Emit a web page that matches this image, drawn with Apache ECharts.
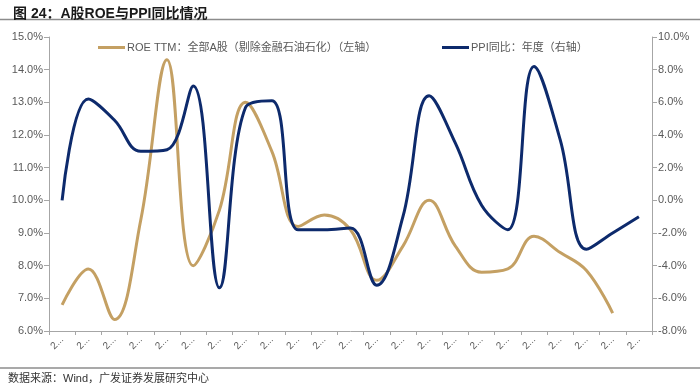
<!DOCTYPE html>
<html><head><meta charset="utf-8">
<script src="https://cdn.jsdelivr.net/npm/echarts@6/dist/echarts.min.js"></script>
<style>html,body{margin:0;padding:0;background:#fff}#c{width:700px;height:385px}</style>
</head><body><div id="c"></div>
<script>
var categories = ['2003','2004','2005','2006','2007','2008','2009','2010','2011','2012','2013','2014','2015','2016','2017','2018','2019','2020','2021','2022','2023','2024','2025'];
var roeValues = [6.8, 7.9, 6.35, 9.4, 14.3, 8.0, 9.7, 13.0, 11.5, 9.2, 9.55, 9.1, 7.55, 8.6, 10.0, 8.6, 7.8, 7.9, 8.9, 8.4, 7.85, 6.55];
var ppiValues = [0.0, 6.2, 4.9, 3.0, 3.1, 7.0, -5.35, 5.7, 6.1, -1.8, -1.8, -1.7, -5.2, -1.0, 6.4, 3.5, -0.3, -1.8, 8.2, 3.7, -3.0, -2.0, -1.0];
var leftTicks = {min: 6, max: 15, interval: 1};
var rightTicks = {min: -8, max: 10, interval: 2};
var roeName = 'ROE TTM：全部A股（剔除金融石油石化）（左轴）';
var ppiName = 'PPI同比：年度（右轴）';

var FONT = '"Liberation Sans", Arial, "Noto Sans CJK SC", sans-serif';
var gold = '#C4A063', navy = '#0D2A6C', axisCol = '#A6A6A6', txt = '#595959';
var chart = echarts.init(document.getElementById('c'), null, {renderer: 'canvas'});
chart.setOption({
  animation: false,
  textStyle: {fontFamily: FONT},
  title: {text: '图 24：A股ROE与PPI同比情况', left: 8, top: 2,
    textStyle: {fontSize: 14, fontWeight: 'bold', color: '#1a1a1a', fontFamily: FONT}},
  graphic: [
    {type: 'line', shape: {x1: 0, y1: 19.5, x2: 700, y2: 19.5}, style: {stroke: '#8c8c8c', lineWidth: 1.5}},
    {type: 'line', shape: {x1: 0, y1: 368, x2: 700, y2: 368}, style: {stroke: '#8c8c8c', lineWidth: 1.5}},
    {type: 'text', left: 8, top: 373, style: {text: '数据来源：Wind，广发证券发展研究中心', fill: '#333', font: '11px ' + FONT}}
  ],
  legend: [
    {data: [roeName], left: 93, top: 37, itemWidth: 27, itemHeight: 3, icon: 'rect', itemGap: 2,
      textStyle: {fontSize: 11, color: txt, padding: [0,0,0,-3]}},
    {data: [ppiName], left: 437, top: 37, itemWidth: 27, itemHeight: 3, icon: 'rect',
      textStyle: {fontSize: 11, color: txt, padding: [0,0,0,-3]}}
  ],
  grid: {left: 49, right: 48, top: 37, height: 294, containLabel: false},
  xAxis: {
    type: 'category', data: categories, boundaryGap: true,
    axisLine: {onZero: false, lineStyle: {color: axisCol}},
    axisTick: {show: true, length: 4, lineStyle: {color: axisCol}},
    axisLabel: {interval: 0, rotate: 45, fontSize: 10, color: txt, margin: 7,
      width: 15, overflow: 'truncate', ellipsis: '...'}
  },
  yAxis: [
    {type: 'value', min: leftTicks.min, max: leftTicks.max, interval: leftTicks.interval,
      axisLine: {show: true, lineStyle: {color: axisCol}},
      axisTick: {show: true, length: 5, lineStyle: {color: axisCol}},
      splitLine: {show: false},
      axisLabel: {fontSize: 11, color: txt, margin: 6, formatter: function(v){return v.toFixed(1)+'%';}}},
    {type: 'value', min: rightTicks.min, max: rightTicks.max, interval: rightTicks.interval,
      axisLine: {show: true, lineStyle: {color: axisCol}},
      axisTick: {show: true, length: 5, lineStyle: {color: axisCol}},
      splitLine: {show: false},
      axisLabel: {fontSize: 11, color: txt, margin: 6, formatter: function(v){return v.toFixed(1)+'%';}}}
  ],
  series: [
    {name: roeName, type: 'line', yAxisIndex: 0, data: roeValues, smooth: 0.4, showSymbol: false,
      lineStyle: {color: gold, width: 3}, itemStyle: {color: gold}},
    {name: ppiName, type: 'line', yAxisIndex: 1, data: ppiValues, smooth: 0.4, showSymbol: false,
      lineStyle: {color: navy, width: 3}, itemStyle: {color: navy}}
  ]
});
</script></body></html>
